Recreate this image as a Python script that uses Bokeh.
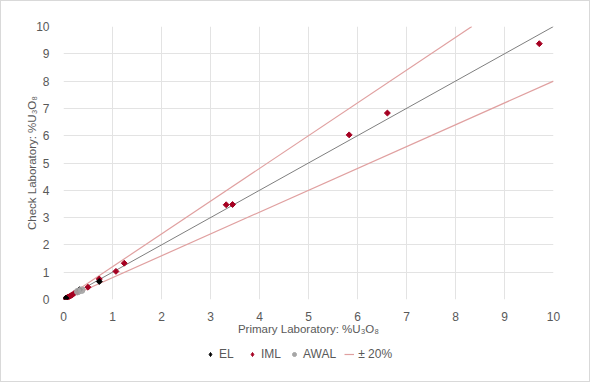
import math
from bokeh.plotting import figure
from bokeh.layouts import column
from bokeh.models import Range1d, FixedTicker, Legend, LegendItem
from bokeh.embed import file_html
from bokeh.resources import INLINE

# ---- data ----
iml_x = [0.02, 0.04, 0.06, 0.08, 0.10, 0.12, 0.15, 0.18, 0.22, 0.27, 0.50, 0.73, 1.07, 1.24, 3.32, 3.45, 5.83, 6.61, 9.71]
iml_y = [0.01, 0.03, 0.05, 0.08, 0.09, 0.11, 0.14, 0.17, 0.23, 0.27, 0.45, 0.75, 1.03, 1.33, 3.47, 3.48, 6.03, 6.83, 9.37]
el_x = [0.05, 0.33, 0.73]
el_y = [0.05, 0.36, 0.66]
awal_x = [0.29, 0.37]
awal_y = [0.29, 0.34]
ticks = [0, 1, 2, 3, 4, 5, 6, 7, 8, 9, 10]
axis_max = 10
tolerance = 0.20

FONT = "Liberation Sans"
TXT = "#595959"
C_IML = "#a50021"
C_EL = "#000000"
C_AWAL = "#a6a6a6"
C_TOL = "#e0a0a0"

p = figure(width=588, height=340, output_backend="svg", toolbar_location=None,
           x_range=Range1d(0, axis_max), y_range=Range1d(0, axis_max),
           min_border_left=62, min_border_right=36, min_border_top=25, min_border_bottom=42)
p.outline_line_color = None
p.background_fill_color = "white"
p.border_fill_color = "white"

for ax in (p.xaxis[0], p.yaxis[0]):
    ax.ticker = FixedTicker(ticks=ticks)
    ax.axis_line_color = None
    ax.major_tick_line_color = None
    ax.minor_tick_line_color = None
    ax.major_label_text_font = FONT
    ax.major_label_text_font_size = "12px"
    ax.major_label_text_color = TXT
    ax.axis_label_text_font = FONT
    ax.axis_label_text_font_size = "11.5px"
    ax.axis_label_text_font_style = "normal"
    ax.axis_label_text_color = TXT

p.xaxis.axis_label = "Primary Laboratory: %U\u2083O\u2088"
p.yaxis.axis_label = "Check Laboratory: %U\u2083O\u2088"
p.xaxis.major_label_standoff = 6
p.xaxis.axis_label_standoff = -1
p.yaxis.major_label_standoff = 8
p.yaxis.axis_label_standoff = -5

p.xgrid.ticker = FixedTicker(ticks=ticks)
p.ygrid.ticker = FixedTicker(ticks=ticks)
p.grid.grid_line_color = "#e3e3e3"
p.grid.grid_line_width = 1

# reference lines
p.line([0, axis_max], [0, axis_max], line_color="#7f7f7f", line_width=1)
p.line([0, axis_max / (1 + tolerance)], [0, axis_max], line_color=C_TOL, line_width=1.2)
p.line([0, axis_max], [0, axis_max * (1 - tolerance)], line_color=C_TOL, line_width=1.2)

ang = math.pi / 4
p.scatter(iml_x, iml_y, marker="square", angle=ang, size=4.2,
          fill_color=C_IML, line_color=C_IML, line_width=1)
p.scatter(el_x, el_y, marker="square", angle=ang, size=4.2,
          fill_color=C_EL, line_color=C_EL, line_width=1)
p.scatter(awal_x, awal_y, marker="circle", size=6.5,
          fill_color=C_AWAL, line_color=C_AWAL, fill_alpha=0.9)

# legend strip below the chart (proxy glyphs sit outside this strip's visible range)
lf = figure(width=588, height=40, output_backend="svg", toolbar_location=None,
            x_range=Range1d(100, 101), y_range=Range1d(100, 101),
            x_axis_type=None, y_axis_type=None, min_border=0)
lf.outline_line_color = None
lf.grid.visible = False
g_el = lf.scatter(el_x[:1], el_y[:1], marker="diamond", size=9,
                  fill_color=C_EL, line_color=C_EL)
g_iml = lf.scatter(iml_x[:1], iml_y[:1], marker="diamond", size=9,
                   fill_color=C_IML, line_color=C_IML)
g_awal = lf.scatter(awal_x[:1], awal_y[:1], marker="circle", size=6.5,
                    fill_color=C_AWAL, line_color=C_AWAL)
g_tol = lf.line(iml_x[:2], iml_y[:2], line_color=C_TOL, line_width=1.2)

legend = Legend(items=[
    LegendItem(label="EL", renderers=[g_el]),
    LegendItem(label="IML", renderers=[g_iml]),
    LegendItem(label="AWAL", renderers=[g_awal]),
    LegendItem(label="\u00b1 20%", renderers=[g_tol]),
], orientation="horizontal", location=(142, 20),
   label_text_font=FONT, label_text_font_size="12px", label_text_color=TXT,
   glyph_width=10, glyph_height=12, spacing=8, label_standoff=4,
   border_line_color=None, background_fill_alpha=0, padding=2, margin=0)
lf.add_layout(legend, "center")

layout = column(p, lf, spacing=0, styles={"border": "1px solid #d9d9d9"})
open("out.html", "w").write(file_html(layout, INLINE))
